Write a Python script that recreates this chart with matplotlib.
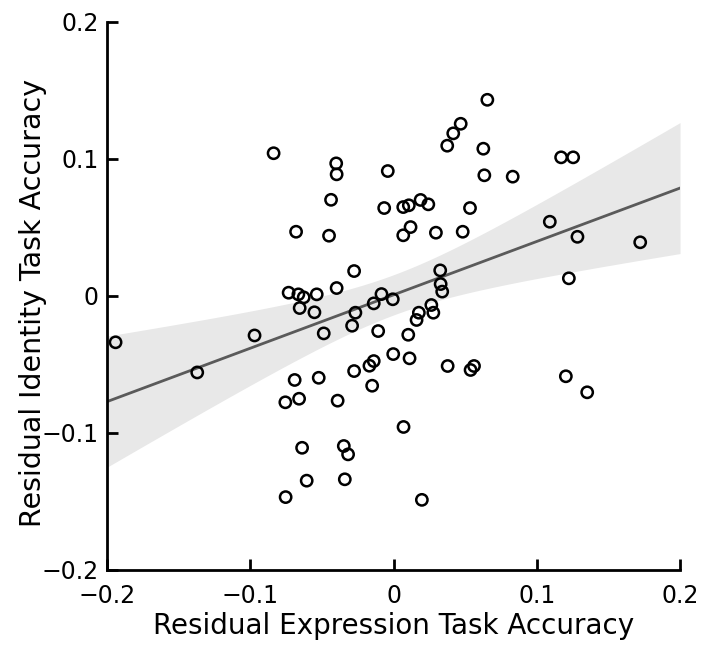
import numpy as np
import matplotlib
matplotlib.use("Agg")
import matplotlib.pyplot as plt

# Residual expression task accuracy (x) and residual identity task accuracy (y)
expr_acc = [
    -0.194, -0.137, -0.097, -0.0837, -0.040, -0.0397, -0.004, -0.0436, -0.0065,
    -0.068, -0.045, -0.0275, -0.0732, -0.0664, -0.0627, -0.0536, -0.0397,
    -0.0655, -0.0552, -0.0266, -0.0138, -0.0084, -0.0005,
    -0.0289, -0.0487, -0.0107, -0.0002, -0.0168, -0.0138, -0.0275, -0.069,
    -0.0522, -0.0149, -0.0755, -0.0659, -0.039, 0.007, -0.0638, -0.0347,
    -0.0317, -0.0606, -0.034, -0.0753,
    0.0264, 0.0278, 0.0177, 0.0161, 0.0103, 0.0112, 0.0378, 0.0538, 0.0562,
    0.1203, 0.1352, 0.0198,
    0.0655, 0.0469, 0.0417, 0.0375, 0.0627, 0.117, 0.1254, 0.0634, 0.0832,
    0.0068, 0.0107, 0.0189, 0.0243, 0.0534, 0.0068, 0.0119, 0.0296, 0.0483,
    0.1091, 0.1284, 0.1722, 0.1224, 0.0326, 0.0329, 0.034,
]
ident_acc = [
    -0.034, -0.056, -0.029, 0.104, 0.0966, 0.0886, 0.091, 0.070, 0.064,
    0.0467, 0.0438, 0.018, 0.0022, 0.001, -0.0012, 0.001, 0.0056,
    -0.009, -0.0121, -0.0124, -0.0056, 0.0012, -0.0026,
    -0.0219, -0.0275, -0.0258, -0.0426, -0.0511, -0.0477, -0.055, -0.0615,
    -0.0599, -0.0657, -0.0778, -0.0752, -0.0766, -0.0958, -0.111, -0.1097,
    -0.1158, -0.135, -0.134, -0.147,
    -0.0068, -0.0124, -0.0124, -0.0177, -0.0285, -0.0457, -0.0513, -0.0542, -0.0513,
    -0.0588, -0.0705, -0.149,
    0.143, 0.1255, 0.1185, 0.1095, 0.1073, 0.101, 0.101, 0.0879, 0.0869,
    0.0647, 0.066, 0.0699, 0.0667, 0.064, 0.0441, 0.0501, 0.046, 0.0467,
    0.054, 0.043, 0.039, 0.0127, 0.0185, 0.0085, 0.003,
]

x_ticks = [-0.2, -0.1, 0, 0.1, 0.2]
x_tick_labels = ["\u22120.2", "\u22120.1", "0", "0.1", "0.2"]
y_ticks = [-0.2, -0.1, 0, 0.1, 0.2]
y_tick_labels = ["\u22120.2", "\u22120.1", "0", "0.1", "0.2"]

x = np.array(expr_acc)
y = np.array(ident_acc)

# Linear fit with 95% confidence band
n = len(x)
slope, intercept = np.polyfit(x, y, 1)
xs = np.linspace(-0.2, 0.2, 200)
ys = slope * xs + intercept
resid = y - (slope * x + intercept)
s_err = np.sqrt(np.sum(resid ** 2) / (n - 2))
t_val = 1.99
ci = t_val * s_err * np.sqrt(1.0 / n + (xs - x.mean()) ** 2 / np.sum((x - x.mean()) ** 2))

fig = plt.figure(figsize=(7.02, 6.48), dpi=100)
ax = fig.add_axes([0.1524, 0.1208, 0.8163, 0.8457])

ax.fill_between(xs, ys - ci, ys + ci, color="#e8e8e8", linewidth=0, zorder=1)
ax.plot(xs, ys, color="#5a5a5a", linewidth=2, zorder=2)
ax.scatter(x, y, s=66, facecolors="none", edgecolors="black", linewidths=1.8, zorder=3)

ax.set_xlim(-0.2, 0.2)
ax.set_ylim(-0.2, 0.2)
ax.set_xticks(x_ticks)
ax.set_xticklabels(x_tick_labels)
ax.set_yticks(y_ticks)
ax.set_yticklabels(y_tick_labels)

for side in ["top", "right"]:
    ax.spines[side].set_visible(False)
for side in ["left", "bottom"]:
    ax.spines[side].set_linewidth(2)
ax.tick_params(direction="in", length=8, width=2, labelsize=17)
ax.tick_params(axis="x", pad=10)
ax.tick_params(axis="y", pad=6)

ax.set_xlabel("Residual Expression Task Accuracy", fontsize=20, labelpad=3)
ax.set_ylabel("Residual Identity Task Accuracy", fontsize=20.5, labelpad=-1)
ax.yaxis.set_label_coords(-0.105, 0.487)

fig.savefig("out.png", dpi=100)
